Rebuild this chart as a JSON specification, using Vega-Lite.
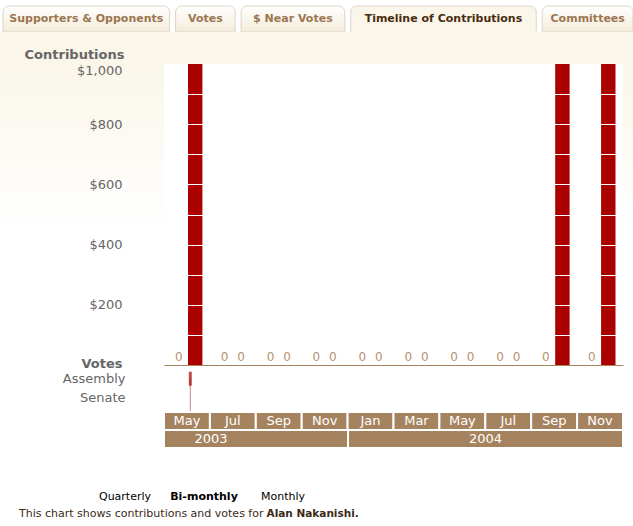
{
  "$schema": "https://vega.github.io/schema/vega-lite/v6.json",
  "padding": {"top": 5, "left": 0, "right": 0, "bottom": 0},
  "background": "white",
  "bounds": "flush",
  "spacing": 0,
  "config": {
    "view": {"stroke": null},
    "font": "DejaVu Sans",
    "axis": {"labelFont": "DejaVu Sans", "titleFont": "DejaVu Sans"}
  },
  "vconcat": [
    {
      "width": 633,
      "height": 26,
      "data": {"values": [
        {"tab": "Supporters & Opponents", "selected": false},
        {"tab": "Votes", "selected": false},
        {"tab": "$ Near Votes", "selected": false},
        {"tab": "Timeline of Contributions", "selected": true},
        {"tab": "Committees", "selected": false}
      ]},
      "transform": [
        {"calculate": "length(datum.tab)*6.3+28", "as": "w"},
        {"window": [{"op": "sum", "field": "w", "as": "cum"}, {"op": "row_number", "as": "i"}], "frame": [null, 0]},
        {"calculate": "3 + datum.cum - datum.w + 6*(datum.i-1)", "as": "x0"},
        {"calculate": "datum.x0 + datum.w", "as": "x1"},
        {"calculate": "datum.x0 + datum.w/2", "as": "xm"}
      ],
      "encoding": {
        "x": {"field": "x0", "type": "quantitative", "scale": {"domain": [0, 633], "nice": false, "zero": false, "clamp": true},
              "axis": {"orient": "bottom", "domain": true, "domainColor": "#dcd5c4", "ticks": false, "labels": false, "grid": false, "title": null}}
      },
      "layer": [
        {
          "transform": [{"filter": "!datum.selected"}],
          "mark": {"type": "rect", "cornerRadiusTopLeft": 6, "cornerRadiusTopRight": 6, "stroke": "#dcd5c4", "strokeWidth": 1,
                   "fill": {"gradient": "linear", "x1": 0, "y1": 0, "x2": 0, "y2": 1, "stops": [{"offset": 0, "color": "#ffffff"}, {"offset": 1, "color": "#f3ecda"}]}},
          "encoding": {"x2": {"field": "x1"}, "y": {"value": 0}, "y2": {"value": "height"}}
        },
        {
          "transform": [{"filter": "datum.selected"}],
          "mark": {"type": "rect", "cornerRadiusTopLeft": 6, "cornerRadiusTopRight": 6, "stroke": "#dcd5c4", "strokeWidth": 1, "fill": "#faf6ea", "y2Offset": 2},
          "encoding": {"x2": {"field": "x1"}, "y": {"value": 0}, "y2": {"value": "height"}}
        },
        {
          "mark": {"type": "text", "fontWeight": "bold", "fontSize": 11, "baseline": "middle", "align": "center"},
          "encoding": {
            "x": {"field": "xm", "type": "quantitative"},
            "y": {"datum": "tabs", "type": "nominal", "scale": {"type": "point", "padding": 0.5}, "axis": null},
            "text": {"field": "tab"},
            "color": {"condition": {"test": "datum.selected", "value": "#4a2c10"}, "value": "#9c7650"}
          }
        }
      ]
    },
    {
      "width": 633,
      "height": 333,
      "view": {"stroke": null, "fill": {"gradient": "linear", "x1": 0, "y1": 0, "x2": 0, "y2": 1,
        "stops": [{"offset": 0, "color": "#faf6ea"}, {"offset": 0.1, "color": "#faf6ea"}, {"offset": 0.6, "color": "#ffffff"}]}},
      "data": {"values": [
        {"period": "2003-05", "side": "Opponents", "amount": 0},
        {"period": "2003-05", "side": "Supporters", "amount": 1000},
        {"period": "2003-07", "side": "Opponents", "amount": 0},
        {"period": "2003-07", "side": "Supporters", "amount": 0},
        {"period": "2003-09", "side": "Opponents", "amount": 0},
        {"period": "2003-09", "side": "Supporters", "amount": 0},
        {"period": "2003-11", "side": "Opponents", "amount": 0},
        {"period": "2003-11", "side": "Supporters", "amount": 0},
        {"period": "2004-01", "side": "Opponents", "amount": 0},
        {"period": "2004-01", "side": "Supporters", "amount": 0},
        {"period": "2004-03", "side": "Opponents", "amount": 0},
        {"period": "2004-03", "side": "Supporters", "amount": 0},
        {"period": "2004-05", "side": "Opponents", "amount": 0},
        {"period": "2004-05", "side": "Supporters", "amount": 0},
        {"period": "2004-07", "side": "Opponents", "amount": 0},
        {"period": "2004-07", "side": "Supporters", "amount": 0},
        {"period": "2004-09", "side": "Opponents", "amount": 0},
        {"period": "2004-09", "side": "Supporters", "amount": 1000},
        {"period": "2004-11", "side": "Opponents", "amount": 0},
        {"period": "2004-11", "side": "Supporters", "amount": 1000}
      ]},
      "encoding": {
        "x": {"field": "period", "type": "nominal", "sort": null,
              "scale": {"range": [164, 623], "paddingInner": 0, "paddingOuter": 0},
              "axis": {"orient": "bottom", "domain": true, "domainColor": "#a5835f", "domainWidth": 1, "ticks": false, "labels": false, "grid": false, "title": null}}
      },
      "layer": [
        {
          "mark": {"type": "bar", "fill": "white"},
          "encoding": {"y": {"datum": 1000, "type": "quantitative", "title": "Contributions"}, "y2": {"datum": 0}}
        },
        {
          "mark": {"type": "bar", "color": "#aa0000"},
          "encoding": {
            "xOffset": {"field": "side", "type": "nominal", "sort": null, "scale": {"paddingInner": 0.127, "paddingOuter": 0.455}},
            "y": {"field": "amount", "type": "quantitative", "title": "Contributions",
                  "scale": {"domain": [0, 1000], "range": [333, 32], "nice": false, "zero": true},
                  "axis": {"orient": "left", "offset": -164, "values": [0, 100, 200, 300, 400, 500, 600, 700, 800, 900, 1000],
                           "tickCount": 20,
                           "format": "$,d", "labelOverlap": false,
                           "labelOpacity": {"condition": {"test": "datum.value > 0 && datum.value % 200 == 0", "value": 1}, "value": 0},
                           "labelPadding": 42, "labelFontSize": 13, "labelColor": "#666666", "labelFlush": true,
                           "ticks": false, "domain": false, "grid": true, "gridColor": "#ffffff",
                           "gridOpacity": {"condition": {"test": "datum.value > 0 && datum.value < 1000", "value": 1}, "value": 0},
                           "zindex": 1,
                           "titleAngle": 0, "titleAlign": "right", "titleBaseline": "middle", "titleX": -40, "titleY": 22,
                           "titleFontSize": 13, "titleFontWeight": "bold", "titleColor": "#666666"}}
          }
        },
        {
          "transform": [{"filter": "datum.amount == 0"}],
          "mark": {"type": "text", "baseline": "alphabetic", "dy": -4, "fontSize": 12, "color": "#b5926e"},
          "encoding": {
            "xOffset": {"field": "side", "type": "nominal", "sort": null},
            "y": {"field": "amount", "type": "quantitative"},
            "text": {"field": "amount", "type": "quantitative"}
          }
        }
      ]
    },
    {
      "width": 633,
      "height": 47,
      "data": {"values": [{"date": "2003-06-05", "chamber": "Assembly"}]},
      "encoding": {
        "x": {"field": "date", "type": "temporal",
              "scale": {"domain": [{"year": 2003, "month": 5, "date": 1}, {"year": 2005, "month": 1, "date": 1}], "range": [164, 623]},
              "axis": null},
        "y": {"field": "chamber", "type": "nominal", "bandPosition": 0.5,
              "scale": {"domain": ["Assembly", "Senate"], "range": [4, 43], "paddingInner": 0, "paddingOuter": 0},
              "axis": {"orient": "left", "offset": -164, "labelPadding": 39, "ticks": false, "domain": false, "grid": false,
                       "labelFontSize": 13, "labelColor": "#666666",
                       "title": "Votes", "titleAngle": 0, "titleAlign": "right", "titleBaseline": "middle", "titleX": -42, "titleY": -2,
                       "titleFontSize": 13, "titleFontWeight": "bold", "titleColor": "#666666"}}
      },
      "layer": [
        {"mark": {"type": "rule", "color": "#c98585", "strokeWidth": 1}, "encoding": {"y2": {"value": "height"}}},
        {"mark": {"type": "tick", "color": "#aa0000", "thickness": 3, "size": 14, "orient": "vertical"}}
      ]
    },
    {
      "width": 633,
      "height": 18,
      "data": {"values": [
        {"period": "2003-05", "month": "May"}, {"period": "2003-07", "month": "Jul"},
        {"period": "2003-09", "month": "Sep"}, {"period": "2003-11", "month": "Nov"},
        {"period": "2004-01", "month": "Jan"}, {"period": "2004-03", "month": "Mar"},
        {"period": "2004-05", "month": "May"}, {"period": "2004-07", "month": "Jul"},
        {"period": "2004-09", "month": "Sep"}, {"period": "2004-11", "month": "Nov"}
      ]},
      "encoding": {
        "x": {"field": "period", "type": "nominal", "sort": null,
              "scale": {"range": [164, 623], "paddingInner": 0, "paddingOuter": 0}, "axis": null}
      },
      "layer": [
        {"mark": {"type": "rect", "fill": "#a5835f", "stroke": "white", "strokeWidth": 2},
         "encoding": {"y": {"value": 0}, "y2": {"value": "height"}}},
        {"mark": {"type": "text", "color": "white", "fontSize": 13, "baseline": "middle"},
         "encoding": {"text": {"field": "month"},
                      "y": {"datum": "months", "type": "nominal", "scale": {"type": "point", "padding": 0.5}, "axis": null}}}
      ]
    },
    {
      "width": 633,
      "height": 18,
      "data": {"values": [
        {"year": "2003", "start": "2003-01-01", "end": "2004-01-01"},
        {"year": "2004", "start": "2004-01-01", "end": "2005-01-01"}
      ]},
      "layer": [
        {"mark": {"type": "rect", "fill": "#a5835f", "stroke": "white", "strokeWidth": 2},
         "encoding": {
           "x": {"field": "start", "type": "temporal",
                 "scale": {"domain": [{"year": 2003, "month": 5, "date": 1}, {"year": 2005, "month": 1, "date": 1}], "range": [164, 623], "clamp": true},
                 "axis": null},
           "x2": {"field": "end"},
           "y": {"value": 0}, "y2": {"value": "height"}}},
        {"mark": {"type": "text", "color": "white", "fontSize": 13, "baseline": "middle"},
         "encoding": {
           "x": {"field": "start", "type": "temporal", "timeUnit": "year", "bandPosition": 0.5},
           "y": {"datum": "years", "type": "nominal", "scale": {"type": "point", "padding": 0.5}, "axis": null},
           "text": {"field": "year"}}}
      ]
    },
    {
      "width": 633,
      "height": 79,
      "resolve": {"scale": {"x": "independent"}},
      "layer": [
        {
          "data": {"values": [{"option": "Quarterly"}, {"option": "Bi-monthly"}, {"option": "Monthly"}]},
          "encoding": {
            "x": {"field": "option", "type": "nominal", "scale": {"type": "point", "domain": ["Quarterly", "Bi-monthly", "Monthly"], "range": [125, 283], "padding": 0}, "axis": null},
            "y": {"datum": "choices", "type": "nominal", "scale": {"type": "point", "domain": ["choices", "caption"], "range": [49, 66], "padding": 0}, "axis": null},
            "text": {"field": "option"}
          },
          "layer": [
            {
              "transform": [{"filter": "datum.option != 'Bi-monthly'"}],
              "mark": {"type": "text", "fontSize": 11, "color": "#000000", "baseline": "middle", "align": "center"}
            },
            {
              "transform": [{"filter": "datum.option == 'Bi-monthly'"}],
              "mark": {"type": "text", "fontSize": 11, "fontWeight": "bold", "color": "#000000", "baseline": "middle", "align": "center"}
            }
          ]
        },
        {
          "data": {"values": [
            {"segment": "This chart shows contributions and votes for ", "kind": "text"},
            {"segment": "Alan Nakanishi.", "kind": "name"}
          ]},
          "transform": [
            {"calculate": "length(datum.segment)", "as": "len"},
            {"window": [{"op": "sum", "field": "len", "as": "cum"}], "frame": [null, 0]},
            {"calculate": "datum.cum - datum.len", "as": "charpos"}
          ],
          "encoding": {
            "x": {"field": "charpos", "type": "quantitative", "scale": {"domain": [0, 100], "range": [19, 569], "nice": false, "zero": false}, "axis": null},
            "y": {"datum": "caption", "type": "nominal"},
            "text": {"field": "segment"}
          },
          "layer": [
            {
              "transform": [{"filter": "datum.kind == 'text'"}],
              "mark": {"type": "text", "fontSize": 11, "color": "#3b2a18", "baseline": "middle", "align": "left"}
            },
            {
              "transform": [{"filter": "datum.kind == 'name'"}],
              "mark": {"type": "text", "fontSize": 10.5, "fontWeight": "bold", "color": "#3b2a18", "baseline": "middle", "align": "left"}
            }
          ]
        }
      ]
    }
  ]
}
